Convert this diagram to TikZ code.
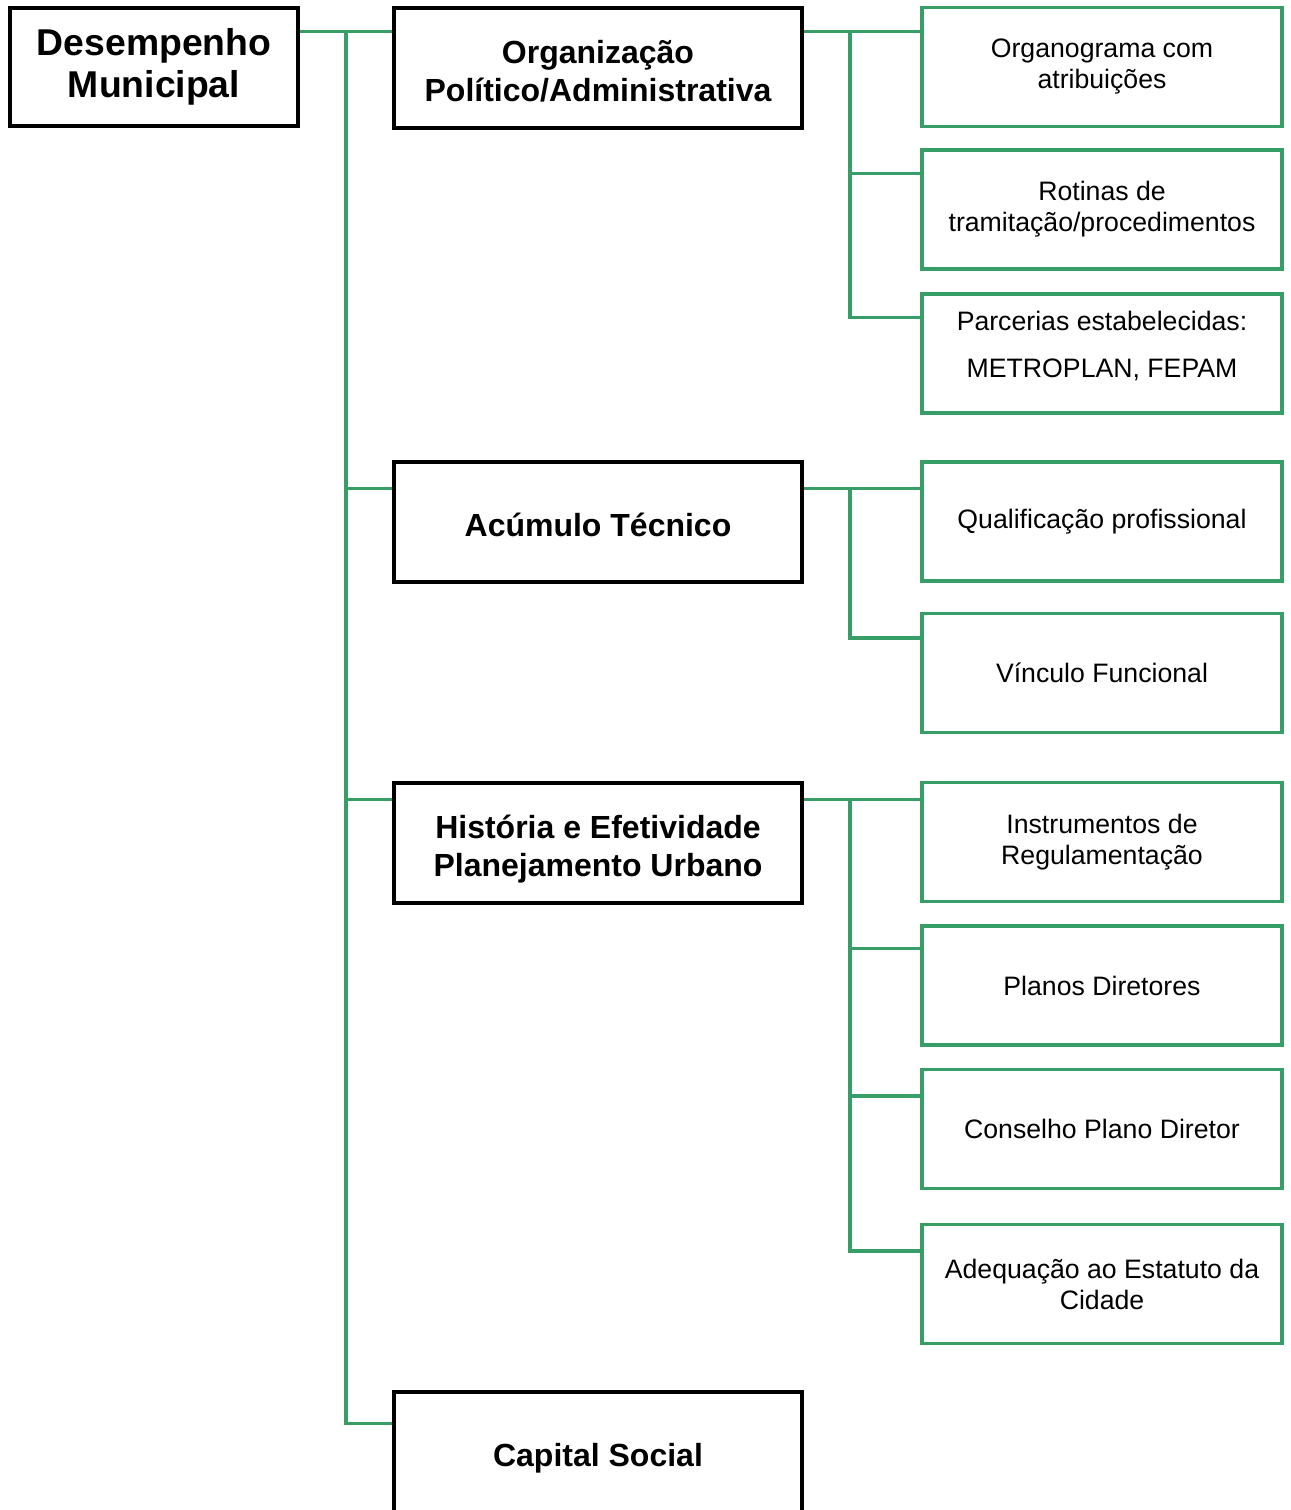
\documentclass[tikz,border=0pt]{standalone}
\usepackage{fontspec}
\setmainfont{Liberation Sans}
\usetikzlibrary{positioning,calc}
\definecolor{linkgreen}{RGB}{56,158,104}
\newcommand{\tstrut}{\rule{0pt}{1.2em}}
\newcommand{\bstrut}{\rule[-0.28em]{0pt}{0.28em}}

\begin{document}
\begin{tikzpicture}[x=0.75pt,y=-0.75pt,
  root/.style={draw=black,line width=2.6pt,minimum width=216pt,minimum height=88.5pt,align=center,font=\fontsize{28}{32}\selectfont\bfseries},
  topic/.style={draw=black,line width=2.6pt,minimum width=306pt,minimum height=90pt,align=center,font=\fontsize{24}{28.5}\selectfont\bfseries},
  item/.style={draw=linkgreen,line width=2.4pt,minimum width=270pt,minimum height=89.25pt,align=center,font=\fontsize{20}{23.25}\selectfont},
  link/.style={draw=linkgreen,line width=2.4pt}]
  \clip (0,0) rectangle (1290,1510);

  \node [root] (root) at (154,67) {Desempenho\\Municipal};

  \node [topic] (org) at (598,68) {\tstrut Organização\\Político/Administrativa\bstrut};
  \node [topic] (acu) at (598,522) {\tstrut Acúmulo Técnico\bstrut};
  \node [topic] (his) at (598,843) {\tstrut História e Efetividade\\Planejamento Urbano\bstrut};
  \node [topic] (cap) at (598,1452) {\tstrut Capital Social\bstrut};

  \node [item] (orgA) at (1102,67) {Organograma com\\atribuições};
  \node [item] (orgB) at (1102,209.5) {Rotinas de\\tramitação/procedimentos};
  \node [item] (orgC) at (1102,353.5) {Parcerias estabelecidas:\\[12pt]METROPLAN, FEPAM\rule[-13.5pt]{0pt}{13.5pt}};
  \node [item] (acuA) at (1102,521.5) {Qualificação profissional};
  \node [item] (acuB) at (1102,673) {Vínculo Funcional};
  \node [item] (hisA) at (1102,842) {Instrumentos de\\Regulamentação};
  \node [item] (hisB) at (1102,985.5) {Planos Diretores};
  \node [item] (hisC) at (1102,1129) {Conselho Plano Diretor};
  \node [item] (hisD) at (1102,1284) {Adequação ao Estatuto da\\Cidade};

  % points where the lines meet the boxes
  \foreach \n/\d in {org/25,acu/28,his/18,cap/33,orgB/25,orgC/25,acuB/26,hisB/24,hisC/28,hisD/28}
    \coordinate (\n-in) at ($(\n.north west)+(0,\d)$);
  \coordinate (spine) at (346,0);
  \coordinate (fork) at (850,0);

  % main spine
  \draw [link] (root.east |- org-in) -- (org-in);
  \draw [link] (spine |- org-in) -- (spine |- cap-in) -- (cap-in);
  \foreach \n in {acu,his}
    \draw [link] (spine |- \n-in) -- (\n-in);

  % sub branches
  \draw [link] (org.east |- org-in) -- (orgA.west |- org-in);
  \draw [link] (fork |- org-in) -- (fork |- orgC-in) -- (orgC-in);
  \draw [link] (fork |- orgB-in) -- (orgB-in);

  \draw [link] (acu.east |- acu-in) -- (acuA.west |- acu-in);
  \draw [link] (fork |- acu-in) -- (fork |- acuB-in) -- (acuB-in);

  \draw [link] (his.east |- his-in) -- (hisA.west |- his-in);
  \draw [link] (fork |- his-in) -- (fork |- hisD-in) -- (hisD-in);
  \foreach \n in {hisB,hisC}
    \draw [link] (fork |- \n-in) -- (\n-in);
\end{tikzpicture}
\end{document}
